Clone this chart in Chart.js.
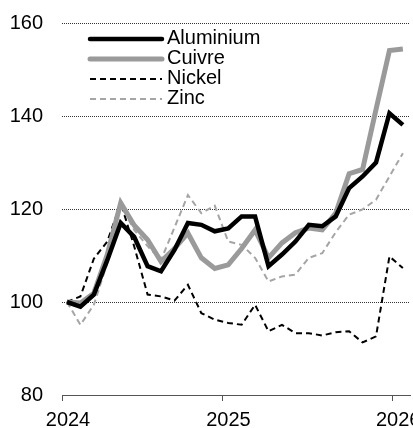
<!DOCTYPE html>
<html>
<head>
<meta charset="utf-8">
<script src="https://cdn.jsdelivr.net/npm/chart.js@4"></script>
<style>
  html, body { margin: 0; padding: 0; background: #fff; }
</style>
</head>
<body>
<canvas id="graphique" width="413" height="428"></canvas>
<script>
// prix des métaux, indice base 100 en janvier 2024, moyennes mensuelles
const mois = [
  '2024-01', '2024-02', '2024-03', '2024-04', '2024-05', '2024-06',
  '2024-07', '2024-08', '2024-09', '2024-10', '2024-11', '2024-12',
  '2025-01', '2025-02', '2025-03', '2025-04', '2025-05', '2025-06',
  '2025-07', '2025-08', '2025-09', '2025-10', '2025-11', '2025-12',
  '2026-01', '2026-02'
]
const aluminium = [100, 99, 101.6, 109, 117, 114, 107.7, 106.6, 111.2, 117, 116.6, 115.2, 115.8,
  118.4, 118.4, 107.7, 110.2, 113, 116.6, 116.3, 118.4, 124.5, 127, 130, 140.6, 138.1]
const cuivre = [100, 99.8, 101.9, 110.2, 121.3, 116.5, 113.4, 108.7, 111.5, 114.8, 109.5, 107.2, 108,
  111.5, 115.5, 109.5, 112.7, 114.9, 115.9, 115.5, 119.1, 127.6, 128.5, 141.4, 154.1, 154.4]
const nickel = [100, 101.2, 109.3, 113, 121.3, 112, 101.6, 101.2, 100.3, 103.7, 97.6, 96.2, 95.5,
  95.1, 99.4, 93.7, 95.1, 93.3, 93.3, 92.8, 93.5, 93.7, 91.3, 92.6, 109.8, 107.3]
const zinc = [100, 95.1, 99.4, 108.4, 120.8, 115.5, 112, 109, 116, 123, 119.1, 120.7, 113,
  112.3, 109.5, 104.4, 105.5, 105.9, 109.5, 110.5, 115, 118.8, 119.9, 122, 127, 132]

const annees = ['2024', '2025', '2026']
const rangAnnees = [-0.37, 11.57, 24.2]   // rang du mois où tombe la graduation
const yTicks = [80, 100, 120, 140, 160]

const police = '"Liberation Sans", Arial, sans-serif'

const serie = (valeurs) => valeurs.map((v, i) => ({ x: i, y: v }))

// légende dessinée à la main, en colonne dans la zone du graphique
const legende = {
  id: 'legende',
  afterDraw(chart) {
    const ctx = chart.ctx
    const x0 = chart.chartArea.left + 28
    let y = chart.chartArea.top + 16
    ctx.save()
    ctx.font = '20px ' + police
    ctx.textBaseline = 'middle'
    chart.data.datasets.forEach(ds => {
      ctx.beginPath()
      ctx.strokeStyle = ds.borderColor
      ctx.lineWidth = ds.borderWidth
      ctx.setLineDash(ds.borderDash || [])
      ctx.lineCap = ds.borderDash ? 'butt' : 'round'
      ctx.moveTo(x0, y)
      ctx.lineTo(x0 + 72, y)
      ctx.stroke()
      ctx.fillStyle = '#000'
      ctx.fillText(ds.label, x0 + 77, y - 1)
      y += 20
    })
    ctx.restore()
  }
}

new Chart(document.getElementById('graphique'), {
  type: 'line',
  data: {
    datasets: [
      { label: 'Aluminium', data: serie(aluminium), borderColor: '#000', borderWidth: 4.5 },
      { label: 'Cuivre', data: serie(cuivre), borderColor: '#9a9a9a', borderWidth: 5 },
      { label: 'Nickel', data: serie(nickel), borderColor: '#000', borderWidth: 2, borderDash: [6, 4] },
      { label: 'Zinc', data: serie(zinc), borderColor: '#a5a5a5', borderWidth: 2, borderDash: [6, 4] }
    ]
  },
  options: {
    responsive: false,
    animation: false,
    events: [],
    elements: {
      point: { radius: 0 },
      line: { tension: 0, fill: false }
    },
    layout: { padding: { left: 9, right: 3, top: 23, bottom: 0 } },
    plugins: {
      legend: { display: false },
      tooltip: { enabled: false }
    },
    scales: {
      x: {
        type: 'linear',
        min: -0.37,
        max: 25.53,
        afterBuildTicks: (s) => { s.ticks = rangAnnees.map(v => ({ value: v })) },
        afterFit: (s) => { s.paddingLeft = 0; s.paddingRight = 0; s.height = 33 },
        ticks: {
          callback: (v, i) => annees[i],
          font: { family: police, size: 20, lineHeight: 1 },
          color: '#000',
          padding: 9,
          labelOffset: 6,
          maxRotation: 0,
          autoSkip: false
        },
        grid: { drawOnChartArea: false, drawTicks: true, tickLength: 6, color: '#555' },
        border: { display: true, color: '#555', width: 1 }
      },
      y: {
        min: 80,
        max: 160,
        afterBuildTicks: (s) => { s.ticks = yTicks.map(v => ({ value: v })) },
        afterFit: (s) => { s.paddingTop = 0; s.paddingBottom = 0; s.width = 53 },
        ticks: {
          font: { family: police, size: 20 },
          color: '#000',
          padding: 19
        },
        grid: { drawTicks: false, color: '#333', lineWidth: 1 },
        border: { display: false, dash: [1, 1] }
      }
    }
  },
  plugins: [legende]
})
</script>
</body>
</html>
